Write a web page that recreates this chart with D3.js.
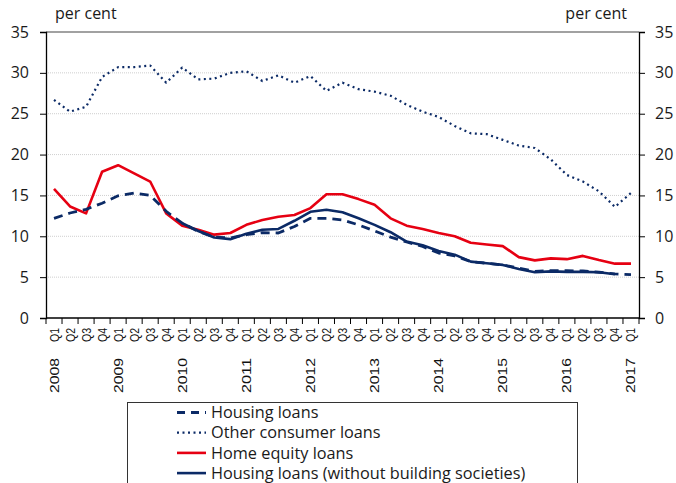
<!DOCTYPE html>
<html>
<head>
<meta charset="utf-8">
<script src="https://cdn.jsdelivr.net/npm/d3@7/dist/d3.min.js"></script>
<style>
  body { margin: 0; background: #fff; }
  svg { display: block; }
  .cal { font-family: "Open Sans", Lato, sans-serif; fill: #1a1a1a; }
  .xl { font-family: "Liberation Sans", Arial, sans-serif; font-size: 13px; fill: #111; }
</style>
</head>
<body>
<svg id="chart" width="676" height="483"></svg>
<script>
// quarters 2008 Q1 .. 2017 Q1
var years = ['2008','2009','2010','2011','2012','2013','2014','2015','2016','2017']
var quarterNames = ['Q1','Q2','Q3','Q4']
var periods = []
years.forEach(function (y) {
  quarterNames.forEach(function (q) {
    if (y === '2017' && q !== 'Q1') return
    periods.push(y + ' ' + q)
  })
})

var housingLoans = [12.2, 12.85, 13.3, 14.05, 14.95, 15.3, 15.0, 13.05, 11.6, 10.6, 9.9, 9.8,
  10.2, 10.45, 10.4, 11.2, 12.2, 12.2, 12.0, 11.4, 10.65, 9.9, 9.3, 8.75,
  7.95, 7.6, 6.9, 6.7, 6.5, 6.1, 5.7, 5.8, 5.8, 5.75, 5.6, 5.4, 5.3]

var otherConsumer = [26.7, 25.25, 25.85, 29.5, 30.7, 30.7, 30.9, 28.8, 30.65, 29.2, 29.3, 30.0,
  30.2, 29.0, 29.7, 28.8, 29.6, 27.8, 28.8, 28.0, 27.7, 27.2, 26.1, 25.25,
  24.6, 23.5, 22.6, 22.5, 21.8, 21.1, 20.8, 19.4, 17.5, 16.7, 15.5, 13.6, 15.3]

var homeEquity = [15.8, 13.65, 12.8, 17.9, 18.7, 17.7, 16.7, 12.8, 11.3, 10.8, 10.2, 10.4,
  11.4, 12.0, 12.4, 12.6, 13.45, 15.15, 15.15, 14.55, 13.85, 12.2, 11.3, 10.9,
  10.4, 10.0, 9.2, 9.0, 8.8, 7.45, 7.05, 7.3, 7.2, 7.6, 7.1, 6.65, 6.65]

// starts 2010 Q1, ends 2016 Q4
var housingNoBS = [null, null, null, null, null, null, null, null, 11.6, 10.65, 9.85, 9.65,
  10.3, 10.8, 10.9, 11.9, 13.0, 13.25, 12.95, 12.2, 11.4, 10.5, 9.35, 8.9,
  8.2, 7.75, 6.9, 6.7, 6.5, 6.0, 5.6, 5.7, 5.65, 5.65, 5.6, 5.35, null]

var yTicks = [0, 5, 10, 15, 20, 25, 30, 35]

var navy = '#0b2a66', red = '#e60012'

var series = [
  { name: 'Housing loans', values: housingLoans, color: navy, width: 2.8, dash: '9,6' },
  { name: 'Other consumer loans', values: otherConsumer, color: navy, width: 2.2, dash: '2,3.5' },
  { name: 'Home equity loans', values: homeEquity, color: red, width: 2.6, dash: null },
  { name: 'Housing loans (without building societies)', values: housingNoBS, color: navy, width: 2.6, dash: null }
]

var margin = { left: 46, right: 37, top: 32, bottom: 165 }
var width = 676, height = 483
var svg = d3.select('#chart')

var x = d3.scaleBand().domain(periods).range([margin.left, width - margin.right])
var y = d3.scaleLinear().domain([0, 35]).range([height - margin.bottom, margin.top])

// gridlines
svg.append('g').selectAll('line')
  .data(yTicks.filter(function (d) { return d > 0 && d < 35 }))
  .enter().append('line')
  .attr('x1', margin.left).attr('x2', width - margin.right)
  .attr('y1', function (d) { return y(d) }).attr('y2', function (d) { return y(d) })
  .attr('stroke', '#cfcfcf').attr('stroke-width', 1).attr('stroke-dasharray', '1,1')

// top frame line
svg.append('line')
  .attr('x1', margin.left).attr('x2', width - margin.right)
  .attr('y1', y(35)).attr('y2', y(35))
  .attr('stroke', '#444').attr('stroke-width', 1.2)

// left axis
var yLeft = svg.append('g')
  .attr('transform', 'translate(' + margin.left + ',0)')
  .call(d3.axisLeft(y).tickValues(yTicks).tickSize(6).tickPadding(11))
yLeft.select('.domain').attr('stroke', '#000').attr('stroke-width', 1.3)
yLeft.selectAll('.tick line').attr('stroke', '#000')
yLeft.selectAll('text').attr('class', 'cal').style('font-size', '16px')

var yRight = svg.append('g')
  .attr('transform', 'translate(' + (width - margin.right) + ',0)')
  .call(d3.axisRight(y).tickValues(yTicks).tickSize(6).tickPadding(10))
yRight.select('.domain').attr('stroke', '#000').attr('stroke-width', 1.3)
yRight.selectAll('.tick line').attr('stroke', '#000')
yRight.selectAll('text').attr('class', 'cal').style('font-size', '16px')

// x axis: ticks at category boundaries
var x0 = height - margin.bottom
svg.append('line')
  .attr('x1', margin.left).attr('x2', width - margin.right)
  .attr('y1', x0).attr('y2', x0)
  .attr('stroke', '#000').attr('stroke-width', 1.3)
svg.append('g').selectAll('line')
  .data(periods.concat(['end']))
  .enter().append('line')
  .attr('x1', function (d, i) { return margin.left + i * x.step() })
  .attr('x2', function (d, i) { return margin.left + i * x.step() })
  .attr('y1', x0).attr('y2', x0 + 6)
  .attr('stroke', '#000').attr('stroke-width', 1)

var xLab = svg.append('g').selectAll('g')
  .data(periods)
  .enter().append('g')
  .attr('transform', function (d) {
    return 'translate(' + (x(d) + x.bandwidth() / 2 + 4.5) + ',' + (x0 + 10) + ') rotate(-90)'
  })
xLab.append('text')
  .attr('class', 'xl')
  .attr('text-anchor', 'end')
  .attr('textLength', 14).attr('lengthAdjust', 'spacingAndGlyphs')
  .text(function (d) { return d.split(' ')[1] })
xLab.filter(function (d) { return d.split(' ')[1] === 'Q1' })
  .append('text')
  .attr('class', 'xl')
  .attr('x', -30)
  .attr('text-anchor', 'end')
  .attr('textLength', 35).attr('lengthAdjust', 'spacingAndGlyphs')
  .text(function (d) { return d.split(' ')[0] })

// unit labels
svg.append('text').attr('class', 'cal').attr('x', 55).attr('y', 19)
  .style('font-size', '16px').text('per cent')
svg.append('text').attr('class', 'cal').attr('x', 627).attr('y', 19)
  .attr('text-anchor', 'end').style('font-size', '16px').text('per cent')

// lines
var line = d3.line()
  .defined(function (d) { return d.v !== null })
  .x(function (d) { return x(d.p) + x.bandwidth() / 2 })
  .y(function (d) { return y(d.v) })

var drawOrder = [series[1], series[2], series[3], series[0]]
drawOrder.forEach(function (s) {
  var pts = s.values.map(function (v, i) { return { p: periods[i], v: v } })
  svg.append('path')
    .datum(pts)
    .attr('d', line)
    .attr('fill', 'none')
    .attr('stroke', s.color)
    .attr('stroke-width', s.width)
    .attr('stroke-dasharray', s.dash)
    .attr('stroke-linejoin', 'round')
})

// legend
var lg = svg.append('g')
lg.append('rect')
  .attr('x', 127.5).attr('y', 402.5).attr('width', 450).attr('height', 100)
  .attr('fill', '#fff').attr('stroke', '#333').attr('stroke-width', 1)
var item = lg.selectAll('g.item')
  .data(series)
  .enter().append('g')
  .attr('class', 'item')
  .attr('transform', function (d, i) { return 'translate(0,' + (412.5 + i * 20.2) + ')' })
item.append('line')
  .attr('x1', 177).attr('x2', 206).attr('y1', 0).attr('y2', 0)
  .attr('stroke', function (d) { return d.color })
  .attr('stroke-width', function (d) { return d.width })
  .attr('stroke-dasharray', function (d) { return d.dash === '9,6' ? '8,6' : d.dash })
item.append('text')
  .attr('class', 'cal')
  .attr('x', 211).attr('dy', '0.35em')
  .style('font-size', '16.3px')
  .text(function (d) { return d.name })
</script>
</body>
</html>
